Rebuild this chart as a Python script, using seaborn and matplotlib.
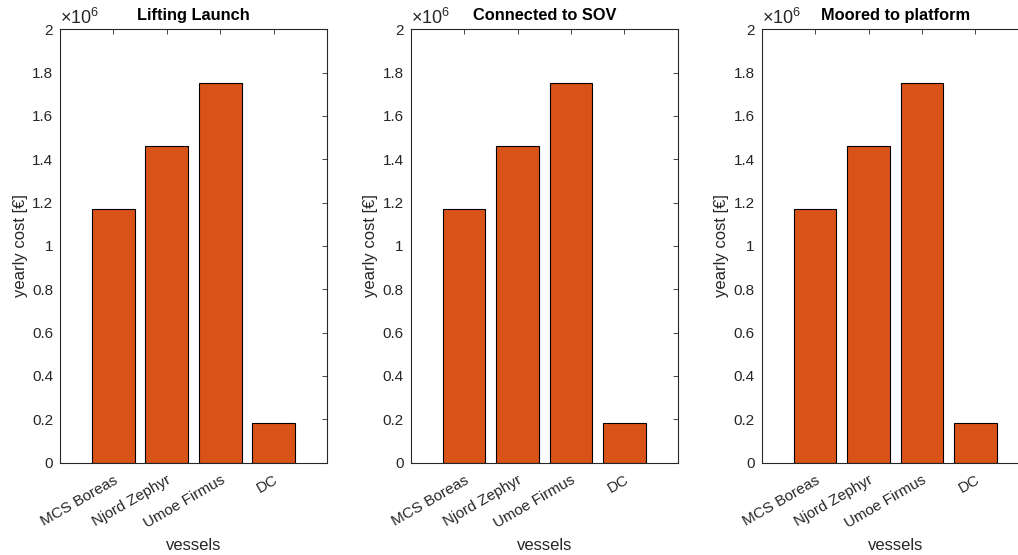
import numpy as np
import pandas as pd
import matplotlib
matplotlib.use("Agg")
import matplotlib.pyplot as plt
from matplotlib.ticker import FuncFormatter
import seaborn as sns

# ---- data ----
vessels = ["MCS Boreas", "Njord Zephyr", "Umoe Firmus", "DC"]
cost_lifting_launch = [1.169e6, 1.460e6, 1.753e6, 0.182e6]
cost_connected_sov = [1.169e6, 1.460e6, 1.753e6, 0.182e6]
cost_moored_platform = [1.169e6, 1.460e6, 1.753e6, 0.182e6]
titles = ["Lifting Launch", "Connected to SOV", "Moored to platform"]
y_ticks = [0, 0.2e6, 0.4e6, 0.6e6, 0.8e6, 1.0e6, 1.2e6, 1.4e6, 1.6e6, 1.8e6, 2.0e6]

sns.set_style("white")
plt.rcParams["font.family"] = ["Liberation Sans", "DejaVu Sans"]
plt.rcParams["mathtext.fontset"] = "custom"
plt.rcParams["mathtext.rm"] = "Liberation Sans"
plt.rcParams["mathtext.it"] = "Liberation Sans:italic"
plt.rcParams["mathtext.bf"] = "Liberation Sans:bold"

BAR_COLOR = "#D95319"
AX_COLOR = "#262626"

W, H = 1018, 555
fig = plt.figure(figsize=(W / 100, H / 100), dpi=100)

lefts = [60.0, 410.7, 761.7]
ax_w = 267.0
ax_top, ax_bottom = 29.3, 462.5

series = [cost_lifting_launch, cost_connected_sov, cost_moored_platform]
for left, title, vals in zip(lefts, titles, series):
    ax = fig.add_axes([left / W, (H - ax_bottom) / H, ax_w / W, (ax_bottom - ax_top) / H])
    df = pd.DataFrame({"vessels": vessels, "cost": vals})
    sns.barplot(data=df, x="vessels", y="cost", order=vessels, color=BAR_COLOR,
                saturation=1, edgecolor="black", linewidth=0.8, width=0.8, ax=ax,
                errorbar=None, zorder=1)
    ax.set_xlim(-1, 4)
    ax.set_ylim(0, 2e6)
    ax.set_yticks(y_ticks)
    ax.yaxis.set_major_formatter(FuncFormatter(lambda v, p: f"{v/1e6:g}"))
    for s in ax.spines.values():
        s.set_visible(True)
        s.set_color(AX_COLOR)
        s.set_linewidth(0.8)
        s.set_zorder(3)
    ax.tick_params(axis="both", direction="in", length=3.6, width=0.6, color=AX_COLOR,
                   top=True, right=True, labelsize=11, labelcolor=AX_COLOR)
    ax.tick_params(axis="y", pad=5)
    ax.tick_params(axis="x", pad=7.5)
    for lab in ax.get_xticklabels():
        lab.set_rotation(30)
        lab.set_ha("right")
        lab.set_va("top")
        lab.set_rotation_mode("anchor")
    ax.set_xlabel("vessels", fontsize=12, color=AX_COLOR, labelpad=5)
    ax.set_ylabel("yearly cost [€]", fontsize=12, color=AX_COLOR, labelpad=3)
    ax.set_title(title, fontsize=11.8, fontweight="bold", color="black", pad=7)
    ax.text(0.0, 1.002, r"$\times10^{6}$", transform=ax.transAxes, ha="left",
            va="bottom", fontsize=13, color=AX_COLOR)

fig.savefig("out.png", dpi=100)
